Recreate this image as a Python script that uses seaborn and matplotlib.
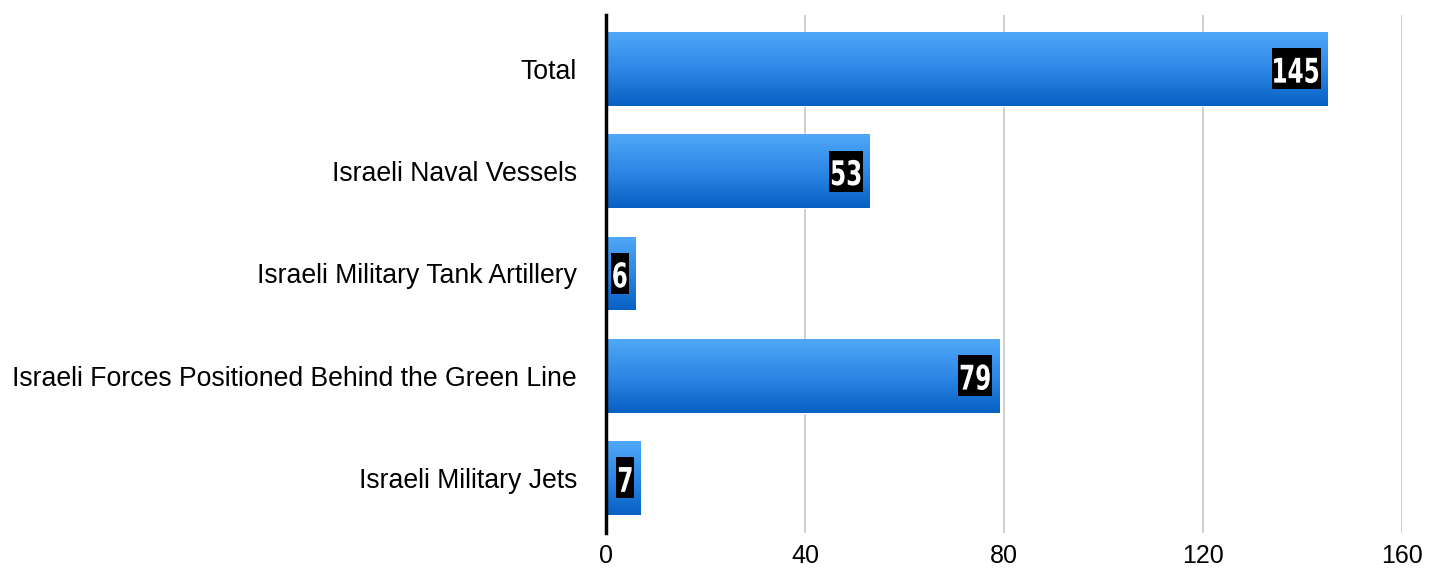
import numpy as np
import pandas as pd
import seaborn as sns
import matplotlib.pyplot as plt
import matplotlib.transforms as mtransforms
from matplotlib.colors import LinearSegmentedColormap
from matplotlib.textpath import TextPath
from matplotlib.patches import PathPatch, Rectangle
from matplotlib.font_manager import FontProperties

categories = ['Total', 'Israeli Naval Vessels', 'Israeli Military Tank Artillery',
              'Israeli Forces Positioned Behind the Green Line', 'Israeli Military Jets']
values = [145, 53, 6, 79, 7]
xticks = [0, 40, 80, 120, 160]

df = pd.DataFrame({'category': categories, 'value': values})

sns.set_style('white')
plt.rcParams['font.family'] = ['Liberation Sans', 'DejaVu Sans']

fig = plt.figure(figsize=(14.4, 5.69), dpi=100)
ax = fig.add_axes([0.421, 0.063, 0.5528, 0.911])

sns.barplot(data=df, x='value', y='category', orient='h', color='#2b86e0',
            width=0.72, ax=ax, zorder=2)

# gradient fill, light on top and dark at the bottom
cmap = LinearSegmentedColormap.from_list('bar', ['#4fa8f7', '#2d87e6', '#0661c2'])
grad = np.linspace(0, 1, 256).reshape(-1, 1)
for p in ax.patches:
    x0, y0 = p.get_x(), p.get_y()
    w, h = p.get_width(), p.get_height()
    im = ax.imshow(grad, cmap=cmap, aspect='auto', zorder=3,
                   extent=[x0, x0 + w, y0 + h, y0], origin='upper')
    im.set_clip_path(p)

# value labels: condensed bold white digits in black boxes (pixel units)
fp = FontProperties(family='DejaVu Sans', weight='bold')
size = 34      # em size in px
sx = 0.68      # horizontal squeeze
gap = 7        # space between box and bar end
padx = 2.5
boxh = 41
for i, v in enumerate(values):
    tp = TextPath((0, 0), str(v), size=1, prop=fp)
    bb = tp.get_extents()
    tw = bb.width * size * sx
    th = bb.height * size
    anchor = mtransforms.ScaledTranslation(v, i, ax.transData)
    left = -gap - padx - tw
    ax.add_patch(Rectangle((left - padx, -boxh / 2), tw + 2 * padx, boxh,
                           fc='black', ec='none', zorder=5,
                           transform=mtransforms.Affine2D() + anchor))
    t = (mtransforms.Affine2D()
         .translate(-bb.x0, -bb.y0)
         .scale(size * sx, size)
         .translate(left, -th / 2 - 1.5)
         + anchor)
    ax.add_patch(PathPatch(tp, fc='white', ec='none', zorder=6, transform=t))

ax.set_xlim(0, 160)
ax.set_ylim(4.54, -0.53)
ax.set_xticks(xticks)
ax.set_xlabel('')
ax.set_ylabel('')
ax.grid(axis='x', color='#cccccc', linewidth=1.3, zorder=0)
ax.grid(axis='y', visible=False)
for s in ['top', 'right', 'bottom']:
    ax.spines[s].set_visible(False)
ax.spines['left'].set_color('black')
ax.spines['left'].set_linewidth(2.5)
ax.spines['left'].set_zorder(7)
ax.tick_params(axis='y', length=0, pad=21, labelsize=19.2, labelcolor='black')
ax.tick_params(axis='x', length=0, pad=8, labelsize=18, labelcolor='black')

plt.savefig('out.png', dpi=100)
